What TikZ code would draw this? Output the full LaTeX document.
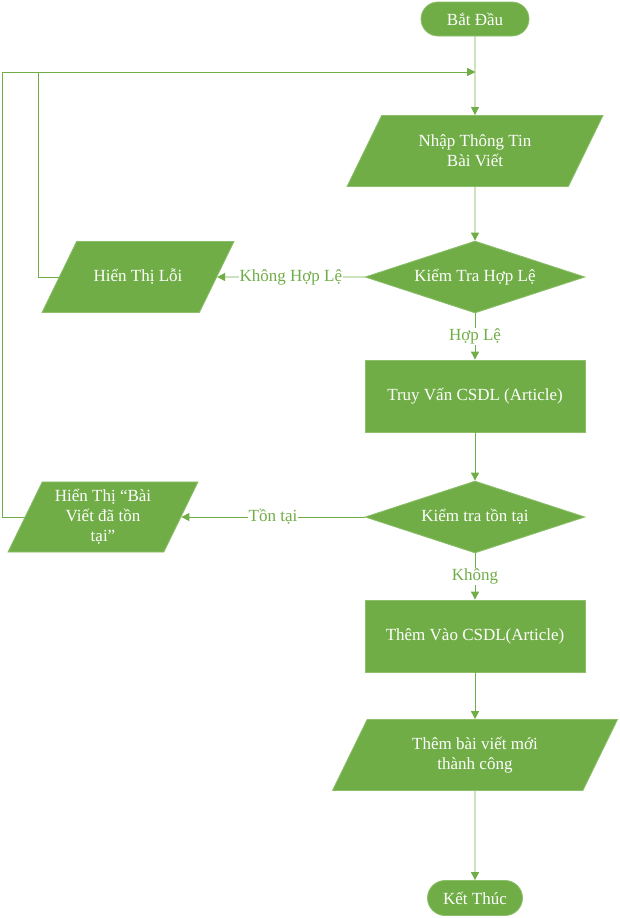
\documentclass[tikz,border=0pt]{standalone}
\usepackage{fontspec}
\setmainfont{Liberation Serif}
\usetikzlibrary{shapes.geometric,shapes.misc,arrows.meta}
\definecolor{leaf}{HTML}{70AD47}
\definecolor{leafedge}{HTML}{8CBF6A}
\tikzset{
  box/.style={fill=leaf, draw=leafedge, line width=0.8pt, text=white, align=center, inner sep=1pt},
  terminal/.style={box, rounded rectangle},
  io/.style={box, trapezium, trapezium left angle=64, trapezium right angle=116,
    trapezium stretches body, inner ysep=#1},
  decision/.style={box, diamond, aspect=3, minimum width=220pt, minimum height=72pt},
  process/.style={box, rectangle, minimum width=220pt, minimum height=72pt},
  arr/.style={leaf, line width=0.9pt, -{Triangle[width=8pt,length=8pt]}},
  tag/.style={fill=white, text=leaf, inner sep=1pt}
}

\begin{document}
\begin{tikzpicture}[x=1pt, y=-1pt, font=\fontsize{17}{20}\selectfont]
  \useasboundingbox (0,0) rectangle (620,918);

  \node[terminal, minimum width=110pt, minimum height=34pt] (start) at (475,19) {Bắt Đầu};
  \node[io=19.5pt, minimum width=256pt] (input) at (475,151) {Nhập Thông Tin\\Bài Viết};
  \node[decision] (check) at (475,277) {Kiểm Tra Hợp Lệ};
  \node[io=27.8pt, minimum width=192pt] (error) at (138,277) {Hiển Thị Lỗi};
  \node[process] (query) at (475,396) {Truy Vấn CSDL (Article)};
  \node[decision] (exists) at (475,517) {Kiểm tra tồn tại};
  \node[io=7.5pt, minimum width=190pt] (dup) at (103,517) {Hiển Thị “Bài\\Viết đã tồn\\tại”};
  \node[process] (insert) at (475,636) {Thêm Vào CSDL(Article)};
  \node[io=17.5pt, minimum width=285pt] (done) at (475,755) {Thêm bài viết mới\\thành công};
  \node[terminal, minimum width=97pt, minimum height=35pt] (finish) at (475,898) {Kết Thúc};

  \coordinate (join) at (475,72);
  \coordinate (inner) at (38,72);
  \coordinate (outer) at (2,72);

  \foreach \a/\b in {start/input, input/check, query/exists, insert/done, done/finish}
    \draw[arr] (\a) -- (\b);

  \draw[arr] (check) -- node[tag] {Không Hợp Lệ} (error);
  \draw[arr] (check) -- node[tag] {Hợp Lệ} (query);
  \draw[arr] (exists) -- node[tag] {Tồn tại} (dup);
  \draw[arr] (exists) -- node[tag] {Không} (insert);

  % quay lai buoc nhap
  \draw[arr] (error.west) -| (inner) -- (join);
  \draw[arr] (dup.west) -| (outer) -- (join);
\end{tikzpicture}
\end{document}
